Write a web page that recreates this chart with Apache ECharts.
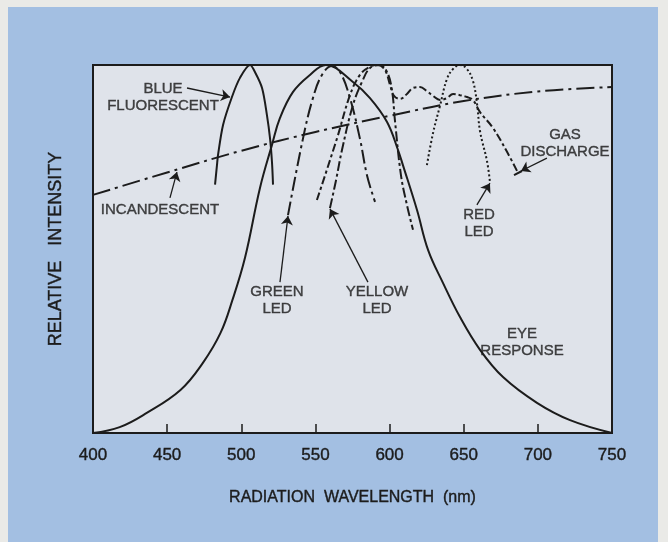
<!DOCTYPE html>
<html><head><meta charset="utf-8">
<script src="https://cdn.jsdelivr.net/npm/echarts@6/dist/echarts.min.js"></script>
<style>
html,body{margin:0;padding:0;background:#eaeae7;overflow:hidden;}
#bg{position:absolute;left:8px;top:7px;width:650px;height:535px;background:#a3bfe2;}
#chart{position:absolute;left:0;top:0;width:668px;height:542px;}
</style></head><body>
<div id="bg"></div><div id="chart"></div>
<script>
// ---- data (x: wavelength nm, y: relative intensity) ----
const xTicks = [400, 450, 500, 550, 600, 650, 700, 750];

const eyeResponse = [[400,0],[418,0.016],[436,0.054],[459,0.117],[474,0.19],[486,0.272],[494,0.361],[502.5,0.476],[512.6,0.666],[520.7,0.783],[526.1,0.856],[534.9,0.927],[546.3,0.973],[557,1],[575.3,0.954],[586.8,0.91],[598.3,0.845],[605.7,0.769],[609,0.728],[618.5,0.606],[626,0.497],[636,0.408],[647.5,0.315],[661,0.226],[676.5,0.152],[699.4,0.082],[721.7,0.035],[750,0]];

const incandescent = [[400,0.647],[450,0.708],[500,0.767],[550,0.818],[600,0.862],[650,0.902],[700,0.928],[750,0.94]];

const blueFluorescent = [[482.3,0.675],[483.6,0.728],[484.3,0.755],[487.7,0.837],[493.7,0.913],[499.1,0.965],[505.9,1],[509.2,0.981],[514,0.9375],[517.3,0.864],[519.4,0.8],[520.7,0.736],[521.4,0.675]];

const greenLED = [[531.5,0.592],[541.6,0.8],[548.3,0.91],[554.4,0.973],[561.2,0.997],[566.6,0.981],[573.3,0.91],[580,0.8],[584.8,0.7],[590.2,0.628]];

const yellowLED = [[559.8,0.611],[563.9,0.687],[567.9,0.769],[575.3,0.891],[581.4,0.954],[586.8,0.992],[593.5,1],[598.3,0.981],[601.6,0.932],[603.6,0.85],[607.7,0.7],[611.7,0.62],[615.8,0.552]];

const gasDischarge = [[551,0.633],[564.5,0.8],[573.3,0.918],[580,0.973],[586.8,0.995],[592.2,1],[596.9,0.986],[600.3,0.946],[603,0.916],[607,0.908],[611.7,0.921],[615.8,0.9375],[620.5,0.94],[625.2,0.929],[629.3,0.916],[634,0.905],[638.7,0.91],[642.8,0.921],[647.5,0.918],[652.2,0.913],[656.2,0.905],[661,0.872],[669.7,0.829],[679.2,0.764],[686.6,0.707]];

const redLED = [[625.2,0.728],[629.3,0.815],[634,0.889],[638.7,0.962],[643,0.99],[647.5,1],[652,0.99],[656.2,0.957],[659,0.894],[661,0.82],[665.7,0.739],[667.7,0.682]];

// annotation texts and their anchors (data coordinates)
const labelTexts = ['BLUE\nFLUORESCENT','INCANDESCENT','GREEN\nLED','YELLOW\nLED','EYE\nRESPONSE','RED\nLED','GAS\nDISCHARGE'];
const labelAnchors = [[447.2,0.913],[445.2,0.606],[524.1,0.361],[591.5,0.361],[689.3,0.245],[660.3,0.571],[718.3,0.788]];
const arrowFrom = [[463.4,0.9375],[451.9,0.639],[526.1,0.41],[585.4,0.41],[658.9,0.62],[706.1,0.747]];
const arrowTo   = [[492.4,0.913],[456.6,0.709],[531.5,0.59],[559.8,0.609],[667.7,0.679],[688.6,0.712]];
// short end bar of the gas-discharge curve
const gasEndBar = [[683.9,0.701],[689.3,0.712]];

const INK = '#1c1c1c';
const FONT = '"Liberation Sans", Arial, sans-serif';
const chart = echarts.init(document.getElementById('chart'), null, {renderer:'canvas'});

function curve(name, data, type, width, smooth) {
  return {
    name, type:'line', data, showSymbol:false, symbol:'none', smooth: smooth, silent:true,
    lineStyle:{color:INK, width:width, type:type}, z:3
  };
}

const option = {
  backgroundColor:'transparent',
  animation:false,
  grid:{left:93, top:65, right:56, bottom:109, show:true, backgroundColor:'#dfe3ea', borderColor:INK, borderWidth:2},
  xAxis:{
    type:'value', min:xTicks[0], max:xTicks[xTicks.length-1], interval:50,
    axisLine:{show:false},
    axisTick:{show:true, inside:true, length:9, lineStyle:{color:INK, width:1.5}},
    axisLabel:{color:INK, fontSize:17, fontFamily:FONT, margin:14, textBorderColor:INK, textBorderWidth:0.4},
    splitLine:{show:false},
    name:'RADIATION  WAVELENGTH  (nm)', nameLocation:'middle', nameGap:57,
    nameTextStyle:{color:INK, fontSize:16, fontFamily:FONT, textBorderColor:INK, textBorderWidth:0.4}
  },
  yAxis:{
    type:'value', min:0, max:1,
    axisLine:{show:false}, axisTick:{show:false}, axisLabel:{show:false}, splitLine:{show:false},
    name:'RELATIVE   INTENSITY', nameLocation:'middle', nameGap:28, nameRotate:90,
    nameTextStyle:{color:INK, fontSize:18, fontFamily:FONT, textBorderColor:INK, textBorderWidth:0.4}
  },
  series:[
    curve('Eye response', eyeResponse, 'solid', 2, 0.4),
    curve('Incandescent', incandescent, [18,5,3,5], 2, 0.4),
    curve('Blue fluorescent', blueFluorescent, 'solid', 2, 0.3),
    curve('Green LED', greenLED, [14,4,3,4], 2, 0.4),
    curve('Yellow LED', yellowLED, [10,3,3,3], 2, 0.4),
    curve('Gas discharge', gasDischarge, [8,3,3,3], 2, 0.4),
    curve('Red LED', redLED, [2,2.5], 2, 0.4),
    {
      name:'labels', type:'scatter', symbolSize:1, itemStyle:{color:'rgba(0,0,0,0)'}, silent:true, z:5,
      data: labelTexts.map((t,i)=>({name:t, value:labelAnchors[i]})),
      label:{show:true, position:'inside', formatter:'{b}', color:INK, fontSize:15, lineHeight:17,
             fontFamily:FONT, align:'center', verticalAlign:'middle', textBorderColor:INK, textBorderWidth:0.4},
      markLine:{
        silent:true, symbol:['none','arrow'], symbolSize:9, animation:false,
        label:{show:false},
        lineStyle:{color:INK, width:1.3, type:'solid'},
        data: arrowFrom.map((f,i)=>[{coord:f},{coord:arrowTo[i]}])
      }
    },
    {
      name:'gasEnd', type:'line', data:gasEndBar, showSymbol:false, symbol:'none', silent:true,
      lineStyle:{color:INK, width:2}, z:4
    }
  ]
};
chart.setOption(option);
</script>
</body></html>
